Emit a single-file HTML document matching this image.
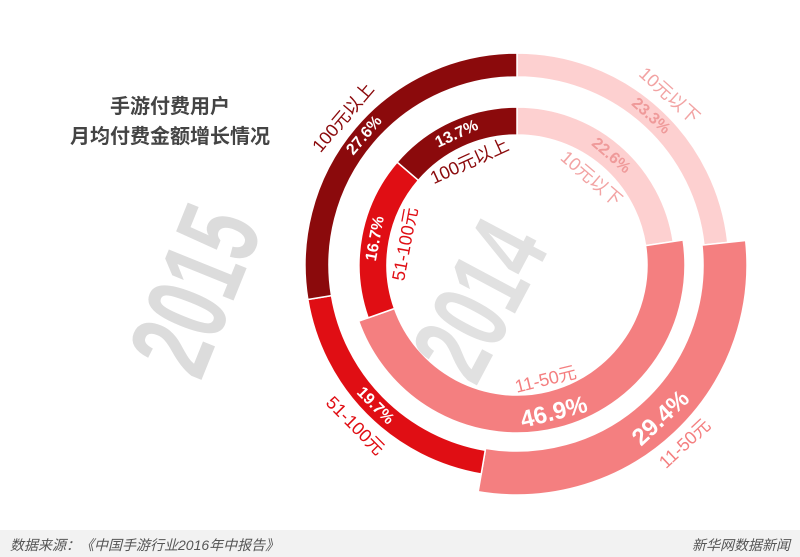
<!DOCTYPE html>
<html><head><meta charset="utf-8">
<style>
html,body{margin:0;padding:0;background:#fff;}
body{width:800px;height:557px;overflow:hidden;position:relative;font-family:"Liberation Sans","Noto Sans CJK SC",sans-serif;}
#title{position:absolute;left:40px;top:92px;width:260px;text-align:center;font-size:20px;font-weight:bold;color:#444;line-height:30px;}
#footer{position:absolute;left:0;top:530px;width:800px;height:27px;background:#f2f2f2;}
#footer span{position:absolute;top:5px;font-size:14px;font-style:italic;color:#555;}
svg{position:absolute;left:0;top:0;}
</style></head>
<body>
<svg id="chart" width="800" height="557" viewBox="0 0 800 557"></svg>
<div id="title">手游付费用户<br>月均付费金额增长情况</div>
<div id="footer">
<span style="left:10px">数据来源：《中国手游行业2016年中报告》</span>
<span style="right:10px">新华网数据新闻</span>
</div>
<script>
const categories = ["10元以下","11-50元","51-100元","100元以上"];
const values2015 = [23.3, 29.4, 19.7, 27.6];
const values2014 = [22.6, 46.9, 16.7, 13.7];
const valueLabels2015 = ["23.3","29.4","19.7","27.6"];
const valueLabels2014 = ["22.6","46.9","16.7","13.7"];

const colors = ["#fdd0d0","#f47f80","#e00e14","#8b0a0c"];
const labelColors = ["#f2a3a3","#f47f80","#e00e14","#8b0a0c"];
const valueColors = ["#ef9a9a","#ffffff","#ffffff","#ffffff"];
const NS = "http://www.w3.org/2000/svg";
const svg = document.getElementById("chart");
const cx = 517, cy = 265;

function pt(r, a){ const t=(a-90)*Math.PI/180; return [cx+r*Math.cos(t), cy+r*Math.sin(t)]; }
function arc(r0,r1,a0,a1){
  const large = (a1-a0)>180?1:0;
  const p0=pt(r1,a0),p1=pt(r1,a1),p2=pt(r0,a1),p3=pt(r0,a0);
  return `M${p0[0]},${p0[1]} A${r1},${r1} 0 ${large} 1 ${p1[0]},${p1[1]} L${p2[0]},${p2[1]} A${r0},${r0} 0 ${large} 0 ${p3[0]},${p3[1]} Z`;
}
function rot(a){ const m=((a%360)+360)%360; return (m>90&&m<270)? m-180 : m; }

// watermarks
function wm(txt,x,y,r,size,name,op){
  const t=document.createElementNS(NS,"text");
  
  
  t.setAttribute("x",x);t.setAttribute("y",y);
  t.setAttribute("text-anchor","middle");t.setAttribute("dominant-baseline","central");
  t.setAttribute("font-size",size);t.setAttribute("font-weight","bold");
  t.setAttribute("fill","#dcdcdc");t.setAttribute("opacity",op);
  t.setAttribute("font-family","'Liberation Sans Narrow','Liberation Sans',sans-serif");
  t.setAttribute("transform",`rotate(${r} ${x} ${y}) scale(0.8 1)`);
  t.setAttribute("transform",`translate(${x} ${y}) rotate(${r}) scale(0.75 1.15) translate(${-x} ${-y})`);
  t.textContent=txt; svg.appendChild(t);
}
wm("2015",195,290,-68,100,"watermark-2015",1);

function ring(vals, labels, rIn, rOut, rOutBig, bigIdx, year, valR, valRBig, labR, labRBig){
  const total = vals.reduce((s,v)=>s+v,0);
  let a=0;
  vals.forEach((v,i)=>{
    const a1=a+v/total*360;
    const ro = i===bigIdx? rOutBig[1] : rOut;
    const ri = i===bigIdx? rOutBig[0] : rIn;
    const p=document.createElementNS(NS,"path");
    
    
    p.setAttribute("d",arc(ri,ro,a,a1));
    p.setAttribute("fill",colors[i]);
    p.setAttribute("stroke","#fff");p.setAttribute("stroke-width","1.5");
    svg.appendChild(p);
    a=a1;
  });
  a=0;
  vals.forEach((v,i)=>{
    const a1=a+v/total*360, m=(a+a1)/2;
    const vr = i===bigIdx? valRBig : valR;
    const lr = i===bigIdx? labRBig : labR;
    const [vx,vy]=pt(vr,m);
    const t=document.createElementNS(NS,"text");
    
    
    t.setAttribute("x",vx);t.setAttribute("y",vy);
    t.setAttribute("text-anchor","middle");t.setAttribute("dominant-baseline","central");
    t.setAttribute("font-size", i===bigIdx?24:16);t.setAttribute("font-weight","bold");
    t.setAttribute("font-family","'Liberation Sans Narrow','Liberation Sans',sans-serif");
    t.setAttribute("fill",valueColors[i]);
    t.setAttribute("transform",`rotate(${rot(m)} ${vx} ${vy})`);
    t.textContent=labels[i]+"%";
    svg.appendChild(t);
    const [lx,ly]=pt(lr,m);
    const c=document.createElementNS(NS,"text");
    
    
    c.setAttribute("x",lx);c.setAttribute("y",ly);
    c.setAttribute("text-anchor","middle");c.setAttribute("dominant-baseline","central");
    c.setAttribute("font-size",18);
    c.setAttribute("fill",labelColors[i]);
    c.setAttribute("transform",`rotate(${rot(m)} ${lx} ${ly})`);
    c.textContent=categories[i];
    svg.appendChild(c);
    a=a1;
  });
}
ring(values2015, valueLabels2015, 188, 212, [186,230], 1, "2015", 200, 210, 228, 245);
ring(values2014, valueLabels2014, 130, 158, [130,168], 1, "2014", 144, 152, 114, 118);

wm("2014",480,300,-62,95,"watermark-2014",0.85);
</script>
</body></html>
